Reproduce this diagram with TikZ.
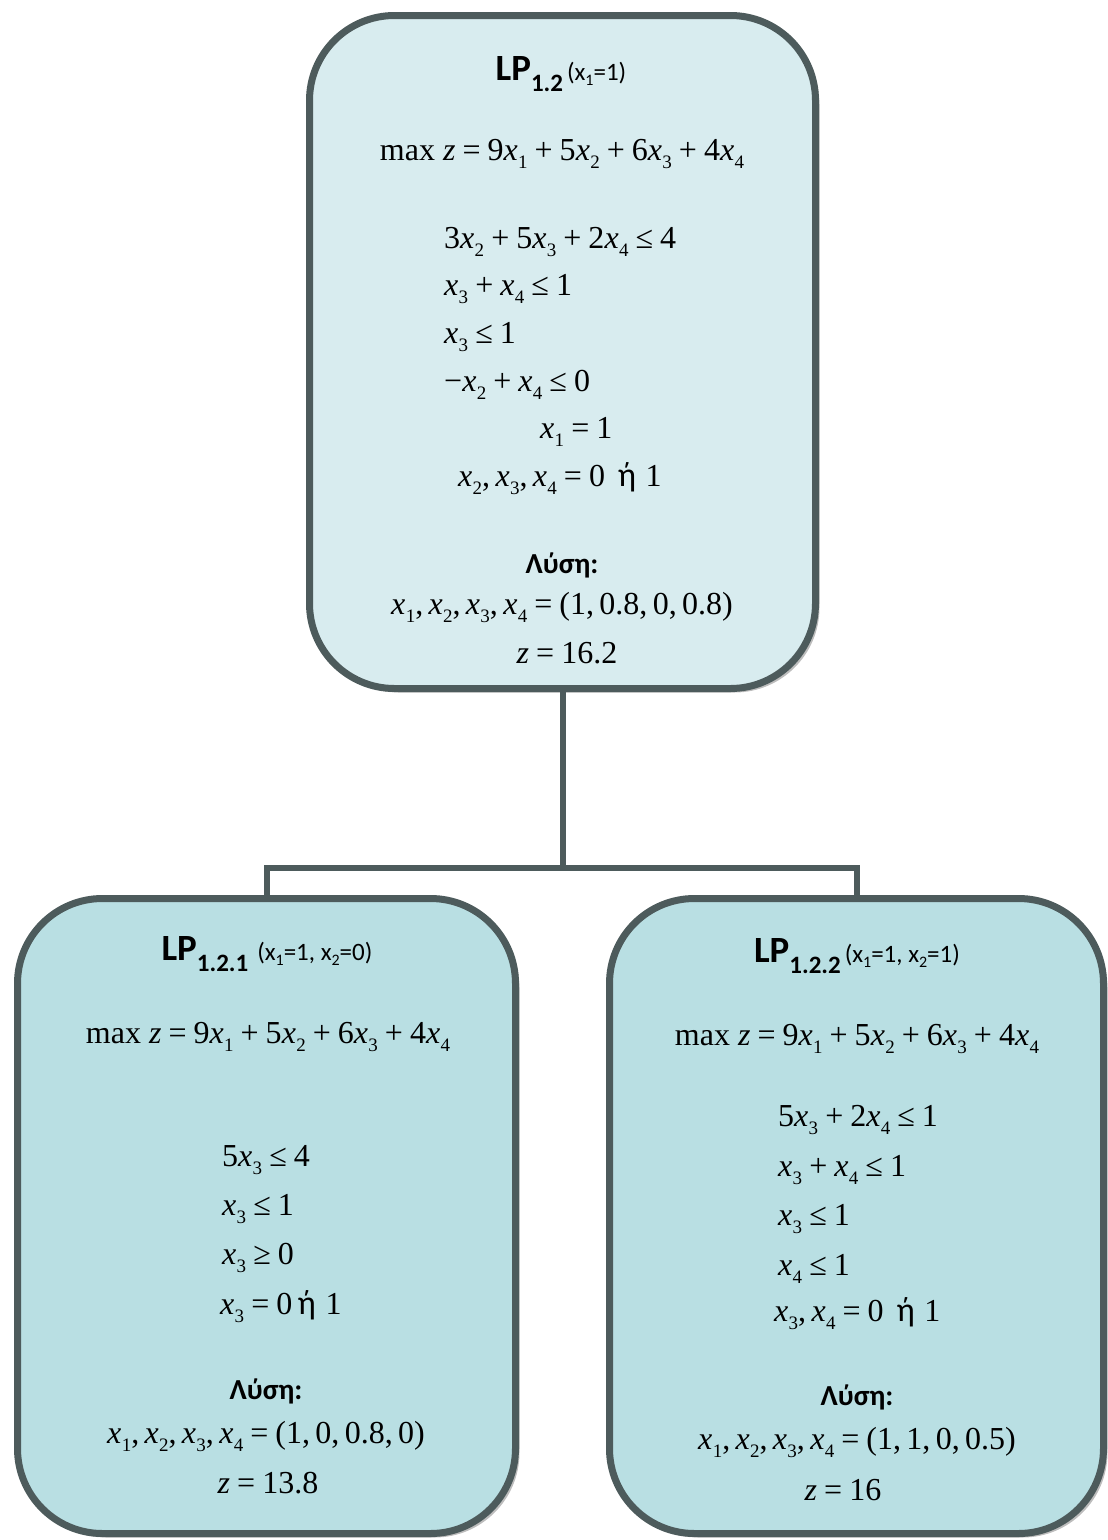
\documentclass[tikz,border=0pt]{standalone}
\usepackage{fontspec}
\setmainfont{Liberation Serif}
\newfontfamily\carl{Carlito}
\usetikzlibrary{shadows}
\definecolor{edgec}{HTML}{4D5B5C}
\definecolor{topfill}{HTML}{D8ECEF}
\definecolor{botfill}{HTML}{B9DFE3}
\definecolor{shadc}{HTML}{BDBDBD}
\newcommand\vx[1]{\textit{x}\kern0.01em\raisebox{-0.27em}{\fontsize{19}{19}\selectfont #1}}
\newcommand\vz{\textit{z}}
\newcommand\op[1]{\hspace{0.22em}#1\hspace{0.22em}}
\newcommand\heta{{\carl\fontsize{34}{36}\selectfont ή}}
\newcommand\tx[1]{x\raisebox{-0.22em}{\fontsize{16}{16}\selectfont #1}}
\newcommand\lptitle[3]{{\carl\bfseries\fontsize{37}{39}\selectfont LP\raisebox{-0.3em}{\fontsize{25}{26}\selectfont #1}}\hspace{#3}{\carl\fontsize{25}{26}\selectfont (#2)}}
\begin{document}
\begin{tikzpicture}[x=1pt,y=-1pt,
  lpbox/.style={draw=edgec, line width=7pt, rounded corners=85pt, rectangle,
    drop shadow={shadow xshift=4pt, shadow yshift=-4pt, fill=shadc, opacity=1}},
  conn/.style={draw=edgec, line width=6pt},
  mathl/.style={inner sep=0pt, font=\fontsize{32}{36}\selectfont},
  solh/.style={inner sep=0pt, font=\carl\bfseries\fontsize{29}{31}\selectfont},
  ttl/.style={inner sep=0pt}]
\useasboundingbox (0,0) rectangle (1108,1540);

% boxes
\node[lpbox, fill=topfill, minimum width=506pt, minimum height=673pt] (top) at (562.5,352) {};
\node[lpbox, fill=botfill, minimum width=498pt, minimum height=635pt] (left) at (266.5,1216) {};
\node[lpbox, fill=botfill, minimum width=494pt, minimum height=635pt] (right) at (856.5,1216) {};

% connectors
\coordinate (junc) at (562.5,868);
\draw[conn] (top.south) -- (junc);
\draw[conn] (junc) -| (left.north);
\draw[conn] (junc) -| (right.north);

% top box text
\node[ttl, anchor=base] (ttop) at (561,80) {\lptitle{1.2}{\tx1=1}{4pt}};
\node[mathl, anchor=base] (t1) at (562,160) {max \vz\op{=}9\vx1\op{+}5\vx2\op{+}6\vx3\op{+}4\vx4};
\node[mathl, anchor=base west] (t2) at (444,248) {3\vx2\op{+}5\vx3\op{+}2\vx4\op{≤}4};
\node[mathl, anchor=base west] (t3) at (444,295) {\vx3\op{+}\vx4\op{≤}1};
\node[mathl, anchor=base west] (t4) at (444,343) {\vx3\op{≤}1};
\node[mathl, anchor=base west] (t5) at (444,391) {−\vx2\op{+}\vx4\op{≤}0};
\node[mathl, anchor=base west] (t6) at (540,438) {\vx1\op{=}1};
\node[mathl, anchor=base west] (t7) at (458,486) {\vx2,\,\vx3,\,\vx4\op{=}0\hspace{0.4em}\heta\hspace{0.3em}1};
\node[solh, anchor=base] (tsol) at (562,573) {Λύση:};
\node[mathl, anchor=base] (t8) at (562,614) {\vx1,\,\vx2,\,\vx3,\,\vx4\op{=}(1,\,0.8,\,0,\,0.8)};
\node[mathl, anchor=base] (t9) at (567,663) {\vz\op{=}16.2};

% left box text
\node[ttl, anchor=base] (tleft) at (267,960) {\lptitle{1.2.1}{\tx1=1, \tx2=0}{9pt}};
\node[mathl, anchor=base] (l1) at (268,1043) {max \vz\op{=}9\vx1\op{+}5\vx2\op{+}6\vx3\op{+}4\vx4};
\node[mathl, anchor=base west] (l2) at (222,1166) {5\vx3\op{≤}4};
\node[mathl, anchor=base west] (l3) at (222,1215) {\vx3\op{≤}1};
\node[mathl, anchor=base west] (l4) at (222,1264) {\vx3\op{≥}0};
\node[mathl, anchor=base west] (l5) at (220,1314) {\vx3\op{=}0\,\heta\hspace{0.3em}1};
\node[solh, anchor=base] (lsol) at (266,1399) {Λύση:};
\node[mathl, anchor=base] (l6) at (266,1443) {\vx1,\,\vx2,\,\vx3,\,\vx4\op{=}(1,\,0,\,0.8,\,0)};
\node[mathl, anchor=base] (l7) at (268,1493) {\vz\op{=}13.8};

% right box text
\node[ttl, anchor=base] (tright) at (857,962) {\lptitle{1.2.2}{\tx1=1, \tx2=1}{4pt}};
\node[mathl, anchor=base] (r1) at (857,1045) {max \vz\op{=}9\vx1\op{+}5\vx2\op{+}6\vx3\op{+}4\vx4};
\node[mathl, anchor=base west] (r2) at (778,1126) {5\vx3\op{+}2\vx4\op{≤}1};
\node[mathl, anchor=base west] (r3) at (778,1176) {\vx3\op{+}\vx4\op{≤}1};
\node[mathl, anchor=base west] (r4) at (778,1225) {\vx3\op{≤}1};
\node[mathl, anchor=base west] (r5) at (778,1275) {\vx4\op{≤}1};
\node[mathl, anchor=base west] (r6) at (774,1321) {\vx3,\,\vx4\op{=}0\hspace{0.4em}\heta\hspace{0.3em}1};
\node[solh, anchor=base] (rsol) at (857,1405) {Λύση:};
\node[mathl, anchor=base] (r7) at (857,1449) {\vx1,\,\vx2,\,\vx3,\,\vx4\op{=}(1,\,1,\,0,\,0.5)};
\node[mathl, anchor=base] (r8) at (843,1500) {\vz\op{=}16};
\end{tikzpicture}
\end{document}
